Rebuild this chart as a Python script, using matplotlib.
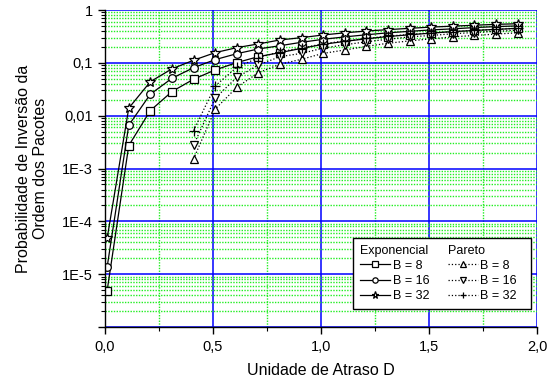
import numpy as np
import matplotlib.pyplot as plt
from matplotlib.lines import Line2D
from matplotlib.ticker import FixedLocator, LogLocator, NullFormatter, FuncFormatter

plt.rcParams['font.family'] = ['Liberation Sans', 'DejaVu Sans']

# atraso D
d_exp = [0.01, 0.11, 0.21, 0.31, 0.41, 0.51, 0.61, 0.71, 0.81, 0.91,
         1.01, 1.11, 1.21, 1.31, 1.41, 1.51, 1.61, 1.71, 1.81, 1.91]
d_par = d_exp[4:]

# exponencial
exp_b8 = [4.9e-6, 2.72e-3, 0.0125, 0.0286, 0.049, 0.0734, 0.101, 0.131, 0.156, 0.188,
          0.224, 0.255, 0.285, 0.315, 0.34, 0.365, 0.39, 0.41, 0.43, 0.45]
exp_b16 = [1.37e-5, 6.6e-3, 0.0255, 0.051, 0.081, 0.115, 0.149, 0.183, 0.211, 0.245,
           0.279, 0.31, 0.34, 0.37, 0.395, 0.42, 0.44, 0.465, 0.485, 0.50]
exp_b32 = [4.8e-5, 0.0139, 0.044, 0.077, 0.112, 0.156, 0.194, 0.228, 0.271, 0.30,
           0.337, 0.37, 0.40, 0.425, 0.45, 0.475, 0.495, 0.515, 0.535, 0.55]

# pareto
par_b8 = [1.52e-3, 0.0133, 0.0345, 0.065, 0.094, 0.117, 0.151, 0.175,
          0.205, 0.235, 0.26, 0.285, 0.31, 0.33, 0.35, 0.37]
par_b16 = [2.77e-3, 0.0214, 0.053, 0.091, 0.131, 0.151, 0.19, 0.22,
           0.25, 0.28, 0.31, 0.33, 0.355, 0.375, 0.395, 0.415]
par_b32 = [5.2e-3, 0.0366, 0.082, 0.125, 0.163, 0.19, 0.23, 0.26,
           0.29, 0.32, 0.345, 0.37, 0.39, 0.41, 0.43, 0.45]

fig = plt.figure(figsize=(5.48, 3.79), dpi=100)
ax = fig.add_axes([0.1916, 0.1372, 0.7884, 0.8364])

mk = dict(color='black', lw=0.9, markersize=5.5, markerfacecolor='white',
          markeredgecolor='black', markeredgewidth=0.9)
h1, = ax.plot(d_exp, exp_b8, '-s', **mk)
h2, = ax.plot(d_exp, exp_b16, '-o', **mk)
h3, = ax.plot(d_exp, exp_b32, '-*', **dict(mk, markersize=7.5))
h4, = ax.plot(d_par, par_b8, ':^', **mk)
h5, = ax.plot(d_par, par_b16, ':v', **mk)
h6, = ax.plot(d_par, par_b32, ':+', **dict(mk, markersize=7))

ax.set_yscale('log')
ax.set_xlim(0, 2.0)
ax.set_ylim(1e-6, 1)

ax.xaxis.set_major_locator(FixedLocator([0, 0.5, 1.0, 1.5, 2.0]))
ax.xaxis.set_minor_locator(FixedLocator([0.25, 0.75, 1.25, 1.75]))
ax.xaxis.set_major_formatter(FuncFormatter(lambda v, p: ('%.1f' % v).replace('.', ',')))

ylabels = {1: '1', 0.1: '0,1', 0.01: '0,01', 1e-3: '1E-3', 1e-4: '1E-4', 1e-5: '1E-5', 1e-6: ''}
ax.yaxis.set_major_locator(FixedLocator(list(ylabels.keys())))
ax.yaxis.set_major_formatter(FuncFormatter(
    lambda v, p: min(ylabels.items(), key=lambda kv: abs(np.log10(kv[0]) - np.log10(v)))[1]))
ax.yaxis.set_minor_locator(LogLocator(base=10, subs=np.arange(2, 10), numticks=20))
ax.yaxis.set_minor_formatter(NullFormatter())

ax.grid(which='major', color='#0000ff', lw=1.1, ls='-')
ax.grid(which='minor', color='#22ee22', lw=1.0, ls=(0, (1, 1)))
ax.set_axisbelow(True)

for s in ['top', 'right']:
    ax.spines[s].set_visible(False)
for s in ['left', 'bottom']:
    ax.spines[s].set_linewidth(1.0)

ax.tick_params(which='major', direction='out', length=5, width=1, labelsize=10.5)
ax.tick_params(which='minor', direction='out', length=3, width=0.8)
ax.tick_params(axis='x', which='major', pad=4)

ax.set_xlabel('Unidade de Atraso D', fontsize=11.5, labelpad=7)
ax.set_ylabel('Probabilidade de Inversão da\nOrdem dos Pacotes', fontsize=11.5, labelpad=10)

blank = Line2D([], [], linestyle='none', marker=None)
handles = [blank, h1, h2, h3, blank, h4, h5, h6]
labels = ['Exponencial', 'B = 8', 'B = 16', 'B = 32', 'Pareto', 'B = 8  ', 'B = 16  ', 'B = 32  ']
leg = ax.legend(handles, labels, ncol=2, loc='lower right', bbox_to_anchor=(0.986, 0.057),
                borderaxespad=0, fontsize=9, frameon=True, fancybox=False, framealpha=1,
                edgecolor='black', handlelength=2.4, handletextpad=0.2, columnspacing=1.5,
                labelspacing=0.25, borderpad=0.55, markerscale=0.7)
leg.get_frame().set_linewidth(1.0)
# headers without handle space
for col in leg._legend_handle_box.get_children():
    head = col.get_children()[0]
    head.sep = 0
    head.get_children()[0].width = 0

fig.savefig('out.png', dpi=100)
